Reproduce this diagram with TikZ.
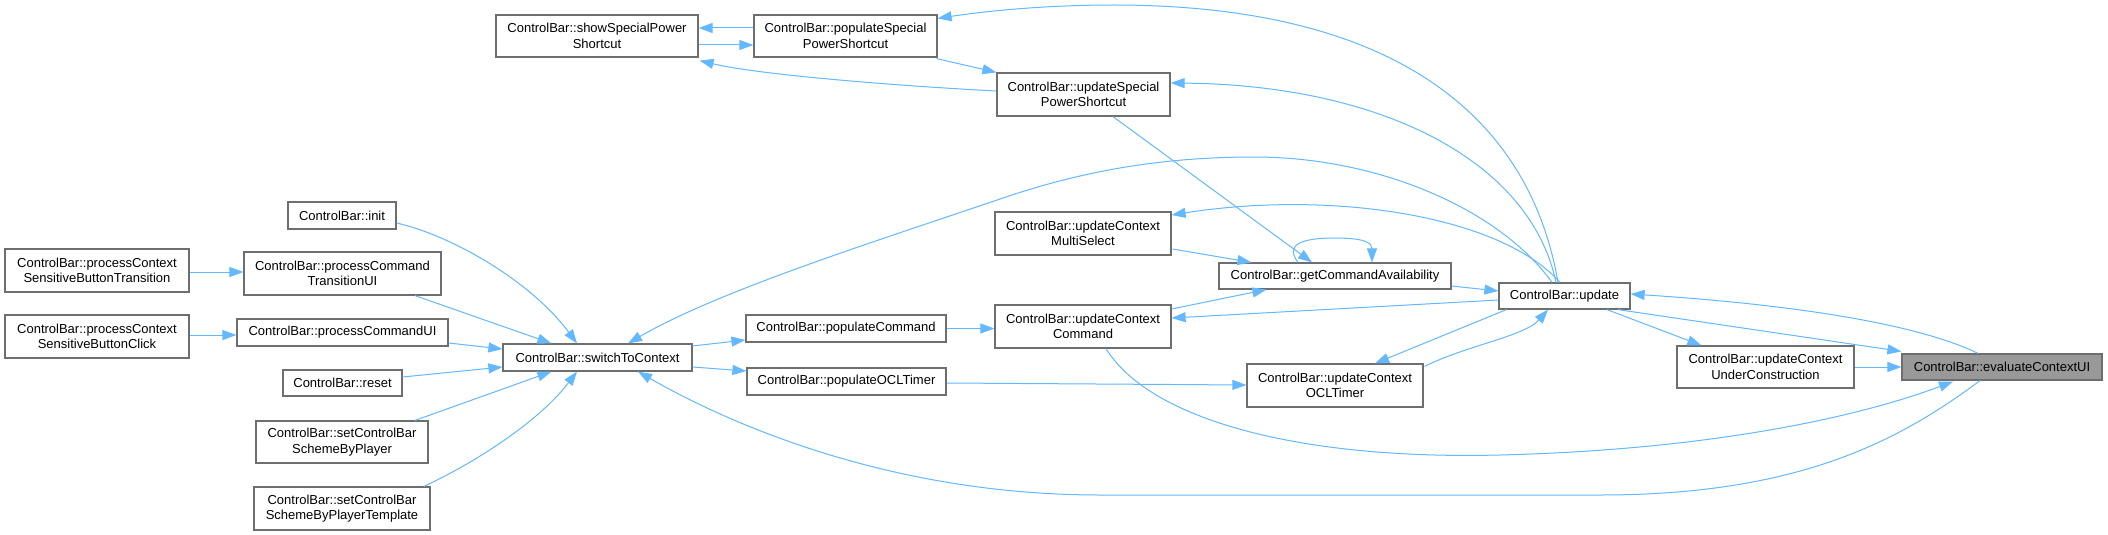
\documentclass[tikz,border=0pt]{standalone}
\usepackage{fontspec}
\setmainfont{Liberation Sans}
\usetikzlibrary{arrows.meta,calc}
\definecolor{edgeblue}{HTML}{63B8FF}
\definecolor{boxgray}{HTML}{6E6E6E}
\definecolor{focusfill}{HTML}{999999}
\begin{document}
\begin{tikzpicture}[x=1pt,y=-1pt,
 fn/.style={draw=boxgray, line width=1.2pt, fill=white, inner sep=0pt, align=center, font=\fontsize{13}{15.5}\selectfont},
 focus/.style={fn, fill=focusfill},
 edge/.style={draw=edgeblue, line width=1pt, -{Triangle[length=14pt,width=10pt]}}]
\useasboundingbox[fill=white] (0,0) rectangle (2108,535);
% nodes
\node[fn, minimum width=202pt, minimum height=42pt] (show) at (597,36) {ControlBar::showSpecialPower\\Shortcut};
\node[fn, minimum width=183pt, minimum height=42pt] (popSP) at (845.5,36) {ControlBar::populateSpecial\\PowerShortcut};
\node[fn, minimum width=173pt, minimum height=43pt] (updSP) at (1083.5,94.5) {ControlBar::updateSpecial\\PowerShortcut};
\node[fn, minimum width=108pt, minimum height=27pt] (init) at (342,215.5) {ControlBar::init};
\node[fn, minimum width=184pt, minimum height=43pt] (pCSBT) at (97,270.5) {ControlBar::processContext\\SensitiveButtonTransition};
\node[fn, minimum width=197pt, minimum height=43pt] (pCTUI) at (342.5,273.5) {ControlBar::processCommand\\TransitionUI};
\node[fn, minimum width=184pt, minimum height=43pt] (pCSBC) at (97,336.5) {ControlBar::processContext\\SensitiveButtonClick};
\node[fn, minimum width=211pt, minimum height=27pt] (pCUI) at (342.5,332.5) {ControlBar::processCommandUI};
\node[fn, minimum width=189pt, minimum height=27pt] (switch) at (597.5,357.5) {ControlBar::switchToContext};
\node[fn, minimum width=119pt, minimum height=26pt] (reset) at (342.5,383) {ControlBar::reset};
\node[fn, minimum width=172pt, minimum height=42pt] (setP) at (342,442) {ControlBar::setControlBar\\SchemeByPlayer};
\node[fn, minimum width=176pt, minimum height=43pt] (setPT) at (342,508.5) {ControlBar::setControlBar\\SchemeByPlayerTemplate};
\node[fn, minimum width=200pt, minimum height=27pt] (popCmd) at (846,328.5) {ControlBar::populateCommand};
\node[fn, minimum width=199pt, minimum height=27pt] (popOCL) at (846.5,381.5) {ControlBar::populateOCLTimer};
\node[fn, minimum width=176pt, minimum height=43pt] (updMS) at (1083,233.5) {ControlBar::updateContext\\MultiSelect};
\node[fn, minimum width=232pt, minimum height=26pt] (getCA) at (1335,276) {ControlBar::getCommandAvailability};
\node[fn, minimum width=176pt, minimum height=43pt] (updCmd) at (1083,326.5) {ControlBar::updateContext\\Command};
\node[fn, minimum width=176pt, minimum height=43pt] (updOCL) at (1335,385.5) {ControlBar::updateContext\\OCLTimer};
\node[fn, minimum width=131pt, minimum height=26pt] (update) at (1564.5,296) {ControlBar::update};
\node[fn, minimum width=177pt, minimum height=42pt] (updUC) at (1765.5,367) {ControlBar::updateContext\\UnderConstruction};
\node[focus, minimum width=200pt, minimum height=26pt] (eval) at (2002,367) {ControlBar::evaluateContextUI};
% edges
\draw[edge] ($(popSP.west)+(0,-8)$) -- ($(show.east)+(0,-8)$);
\draw[edge] ($(show.east)+(0,9)$) -- ($(popSP.west)+(0,9)$);
\draw[edge] ($(updSP.west)+(0,-3.5)$) .. controls (900,86) and (760,75) .. ($(show.south east)+(1,3)$);
\draw[edge] ($(popSP.south east)+(-1,1)$) -- (updSP.north west);
\draw[edge] ($(update.north)+(-6.5,0)$) .. controls (1530,120) and (1400,5) .. (1113,5) .. controls (1040,5) and (980,12) .. ($(popSP.north east)+(0,4)$);
\draw[edge] ($(update.north)+(-8.5,0)$) .. controls (1530,160) and (1380,85) .. ($(updSP.east)+(0,-11.5)$);
\draw[edge] ($(update.north)+(-12.5,0)$) .. controls (1500,210) and (1380,157) .. (1254,157) .. controls (1150,157) and (1070,175) .. (1000,199) .. controls (880,240) and (720,290) .. ($(switch.north)+(30.5,0)$);
\draw[edge] ($(update.north)+(-4.5,0)$) .. controls (1500,215) and (1330,190) .. ($(updMS.east)+(0,-18.5)$);
\draw[edge] ($(updMS.east)+(1,15.5)$) -- ($(getCA.north west)+(33,0)$);
\draw[edge] ($(updSP.south)+(29.5,0)$) -- ($(getCA.north)+(-23,0)$);
\draw[edge] ($(getCA.north)+(-37,0)$) .. controls (1285,245) and (1300,238) .. (1335,238) .. controls (1365,238) and (1372,243) .. ($(getCA.north)+(37,0)$);
\draw[edge] ($(getCA.east)+(0,10)$) -- ($(update.west)+(0,-5)$);
\draw[edge] ($(updCmd.east)+(0,-17.5)$) -- ($(getCA.south west)+(48,0)$);
\draw[edge] ($(update.west)+(0,4)$) -- ($(updCmd.east)+(0,-8.5)$);
\draw[edge] ($(update.south west)+(8,0)$) -- ($(updOCL.north)+(40,0)$);
\draw[edge] ($(updOCL.north east)+(1,3)$) .. controls (1465,346) and (1525,336) .. ($(update.south)+(-16.5,0)$);
\draw[edge] ($(update.south)+(42.5,0)$) -- ($(updUC.north west)+(25,0)$);
\draw[edge] ($(update.south)+(53.5,0)$) -- ($(eval.north west)+(0,-2)$);
\draw[edge] ($(eval.north)+(-24,0)$) .. controls (1920,325) and (1800,305) .. ($(update.east)+(0,-2)$);
\draw[edge] (updUC.east) -- (eval.west);
\draw[edge] ($(updCmd.south)+(23,0)$) .. controls (1150,420) and (1300,460) .. (1500,455) .. controls (1700,450) and (1850,420) .. ($(eval.south)+(-49,1)$);
\draw[edge] ($(eval.south)+(-22,0)$) .. controls (1900,440) and (1800,495) .. (1600,495) -- (1100,495) .. controls (900,495) and (740,430) .. ($(switch.south)+(40.5,0)$);
\draw[edge] ($(popOCL.east)+(0,1.5)$) -- ($(updOCL.west)+(0,-0.5)$);
\draw[edge] (popCmd.east) -- (popCmd.east -| updCmd.west);
\draw[edge] ($(switch.east)+(0,-11.5)$) -- ($(popCmd.west)+(0,11.5)$);
\draw[edge] ($(switch.east)+(0,9.5)$) -- ($(popOCL.west)+(0,-10.5)$);
\draw[edge] ($(init.east)+(0,7.5)$) .. controls (450,235) and (530,280) .. ($(switch.north)+(-20.5,0)$);
\draw[edge] ($(pCTUI.south)+(72.5,0)$) -- ($(switch.north west)+(49,0)$);
\draw[edge] ($(pCUI.east)+(0,10.5)$) -- ($(switch.west)+(0,-8.5)$);
\draw[edge] ($(reset.east)+(0,-6)$) -- ($(switch.west)+(0,9.5)$);
\draw[edge] ($(setP.north)+(73,0)$) -- ($(switch.south west)+(49,0)$);
\draw[edge] ($(setPT.north)+(82,0)$) .. controls (480,460) and (540,420) .. ($(switch.south)+(-20.5,0)$);
\draw[edge] ($(pCSBT.east)+(0,1.5)$) -- ($(pCTUI.west)+(0,-1.5)$);
\draw[edge] ($(pCSBC.east)+(0,-1.5)$) -- ($(pCUI.west)+(0,2.5)$);
\end{tikzpicture}
\end{document}
